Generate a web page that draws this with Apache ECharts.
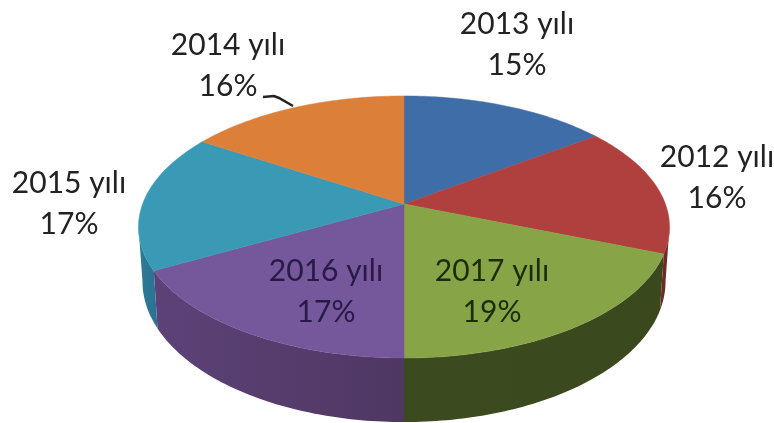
<!DOCTYPE html>
<html>
<head>
<meta charset="utf-8">
<style>html,body{margin:0;padding:0;background:#fff}#chart{width:774px;height:423px}</style>
<script src="https://cdn.jsdelivr.net/npm/echarts@6/dist/echarts.min.js"></script>
</head>
<body>
<div id="chart"></div>
<script>
// Shares per year, clockwise from twelve o'clock
const categories = ['2013 yılı', '2012 yılı', '2017 yılı', '2016 yılı', '2015 yılı', '2014 yılı'];
const shares = [15, 16, 19, 17, 17, 16];

const topColors = ['#3f6da8', '#b0403e', '#87a546', '#75579b', '#3a9ab6', '#dc7f38'];
const wallColors = [
  ['#2c4c76', '#2c4c76'],
  ['#6f2a28', '#6f2a28'],
  ['#3a491d', '#3c4a20'],
  ['#5c4277', '#4f3763'],
  ['#2b7d93', '#2f6f95'],
  ['#a05a26', '#a05a26']
];
const labelColors = ['#222222', '#222222', '#1c2b0c', '#281a45', '#222222', '#222222'];
const labelSpots = [[517, 45], [717, 178], [492, 292], [326, 292], [69, 204], [228, 66]];

// Perspective projection of a disc tilted away from the viewer
const view = { cx: 404, cy: 204, dist: 5.7, fx: 1490, fy: 724, wall: 301, wallShrink: 0.985 };
const FRONT_FROM = 100, FRONT_TO = 260;

function project(deg, lower) {
  const t = deg * Math.PI / 180;
  const w = view.dist + Math.cos(t);
  const scale = lower ? view.wallShrink : 1;
  return [
    view.cx + scale * view.fx * Math.sin(t) / w,
    view.cy - view.fy * Math.cos(t) / w + (lower ? view.wall / w : 0)
  ];
}

function arc(from, to, lower) {
  const pts = [];
  const steps = Math.max(2, Math.ceil(to - from));
  for (let i = 0; i <= steps; i++) pts.push(project(from + (to - from) * i / steps, lower));
  return pts;
}

const total = shares.reduce((a, b) => a + b, 0);

function renderSlice(params, api) {
  const i = params.dataIndex;
  const before = shares.slice(0, i).reduce((a, b) => a + b, 0);
  const start = before / total * 360;
  const end = start + api.value(0) / total * 360;
  const children = [];

  const wallStart = Math.max(start, FRONT_FROM);
  const wallEnd = Math.min(end, FRONT_TO);
  if (wallEnd > wallStart) {
    const upper = arc(wallStart, wallEnd, false);
    const lower = arc(wallStart, wallEnd, true).reverse();
    children.push({
      type: 'polygon',
      z2: 1,
      shape: { points: upper.concat(lower) },
      style: {
        fill: new echarts.graphic.LinearGradient(0, 0, 1, 0, [
          { offset: 0, color: wallColors[i][i > 2 ? 0 : 1] },
          { offset: 1, color: wallColors[i][i > 2 ? 1 : 0] }
        ])
      }
    });
  }

  children.push({
    type: 'polygon',
    z2: 2,
    shape: { points: [[view.cx, view.cy]].concat(arc(start, end, false)) },
    style: { fill: topColors[i], stroke: topColors[i], lineWidth: 0.5 }
  });

  children.push({
    type: 'text',
    z2: 10,
    style: {
      text: categories[i] + '\n' + api.value(0) + '%',
      x: labelSpots[i][0],
      y: labelSpots[i][1],
      align: 'center',
      verticalAlign: 'middle',
      font: '30px Lato',
      lineHeight: 41,
      fill: labelColors[i]
    }
  });
  return { type: 'group', children };
}

const chart = echarts.init(document.getElementById('chart'), null, { renderer: 'canvas' });
chart.setOption({
  animation: false,
  backgroundColor: '#ffffff',
  graphic: [{
    type: 'polyline',
    shape: { points: [[263, 97], [274, 96], [279, 98], [293, 106]] },
    style: { stroke: '#222222', lineWidth: 2.5, fill: null }
  }],
  series: [{
    type: 'custom',
    coordinateSystem: 'none',
    data: shares,
    renderItem: renderSlice,
    silent: true
  }]
});
</script>
</body>
</html>
